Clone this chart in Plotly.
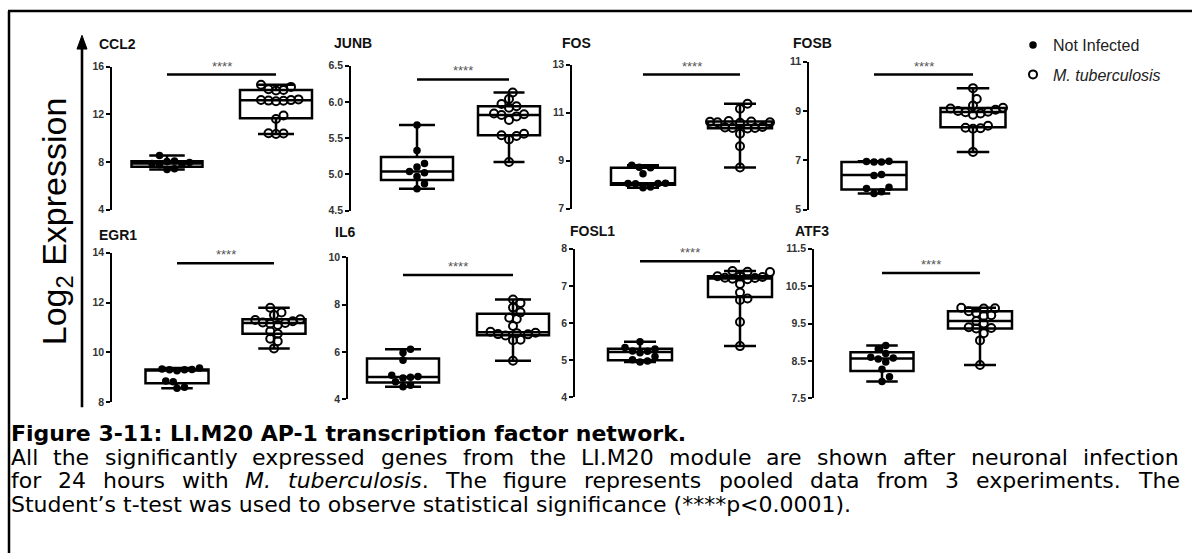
import re
import numpy as np
import plotly.graph_objects as go

W, H = 1192, 559
FONT = "Liberation Sans, Arial, Helvetica, sans-serif"
CAP_FONT = "DejaVu Sans, Liberation Sans, Arial, sans-serif"

# ---------------- data ----------------
genes = ["CCL2", "JUNB", "FOS", "FOSB", "EGR1", "IL6", "FOSL1", "ATF3"]
group_names = ["Not Infected", "<i>M. tuberculosis</i>"]

ccl2_ni = [7.37, 7.42, 7.76, 7.80, 7.86, 7.95, 8.04, 8.08, 8.54]
ccl2_tb = [10.35, 10.38, 10.40, 11.60, 11.90, 13.10, 13.13, 13.15, 13.19, 13.20, 13.25, 14.00, 14.05, 14.10, 14.30, 14.48]
junb_ni = [4.80, 4.87, 4.97, 5.02, 5.04, 5.10, 5.15, 5.33, 5.68]
junb_tb = [5.17, 5.48, 5.53, 5.54, 5.56, 5.75, 5.80, 5.82, 5.83, 5.84, 5.92, 5.94, 5.97, 6.04, 6.13]
fos_ni = [7.87, 7.90, 8.03, 8.04, 8.05, 8.06, 8.45, 8.70, 8.72, 8.81]
fos_tb = [8.71, 9.60, 10.12, 10.34, 10.36, 10.36, 10.38, 10.40, 10.58, 10.60, 10.60, 10.62, 10.63, 10.65, 11.16, 11.37]
fosb_ni = [5.65, 5.72, 5.85, 5.90, 6.38, 6.42, 6.93, 6.93, 6.95, 6.96]
fosb_tb = [7.34, 8.28, 8.30, 8.32, 8.40, 8.85, 8.90, 8.95, 8.97, 9.00, 9.05, 9.10, 9.13, 9.22, 9.49, 9.93]
egr1_ni = [8.56, 8.60, 8.82, 8.85, 9.26, 9.30, 9.30, 9.31, 9.33, 9.37]
egr1_tb = [10.16, 10.45, 10.55, 10.75, 10.85, 11.10, 11.15, 11.18, 11.20, 11.25, 11.30, 11.33, 11.50, 11.60, 11.79]
il6_ni = [4.53, 4.60, 4.75, 4.90, 4.93, 4.97, 5.02, 5.65, 5.97, 6.12]
il6_tb = [5.63, 6.50, 6.52, 6.70, 6.75, 6.76, 6.80, 6.82, 6.86, 7.10, 7.40, 7.45, 7.68, 7.88, 8.07, 8.22]
fosl1_ni = [4.95, 4.98, 5.01, 5.10, 5.20, 5.24, 5.25, 5.30, 5.34, 5.50]
fosl1_tb = [5.38, 6.03, 6.62, 6.66, 6.82, 7.05, 7.18, 7.19, 7.21, 7.22, 7.24, 7.25, 7.26, 7.37, 7.38, 7.40]
atf3_ni = [7.95, 8.08, 8.28, 8.47, 8.55, 8.58, 8.60, 8.70, 8.82, 8.91]
atf3_tb = [8.39, 9.05, 9.24, 9.37, 9.38, 9.40, 9.50, 9.57, 9.70, 9.72, 9.78, 9.83, 9.90, 9.91, 9.92]

not_infected = [ccl2_ni, junb_ni, fos_ni, fosb_ni, egr1_ni, il6_ni, fosl1_ni, atf3_ni]
infected = [ccl2_tb, junb_tb, fos_tb, fosb_tb, egr1_tb, il6_tb, fosl1_tb, atf3_tb]

tick_values = [
    [4, 8, 12, 16],
    [4.5, 5.0, 5.5, 6.0, 6.5],
    [7, 9, 11, 13],
    [5, 7, 9, 11],
    [8, 10, 12, 14],
    [4, 6, 8, 10],
    [4, 5, 6, 7, 8],
    [7.5, 8.5, 9.5, 10.5, 11.5],
]
tick_labels = [
    ["4", "8", "12", "16"],
    ["4.5", "5.0", "5.5", "6.0", "6.5"],
    ["7", "9", "11", "13"],
    ["5", "7", "9", "11"],
    ["8", "10", "12", "14"],
    ["4", "6", "8", "10"],
    ["4", "5", "6", "7", "8"],
    ["7.5", "8.5", "9.5", "10.5", "11.5"],
]
sig_heights = [15.34, 6.31, 12.59, 10.48, 13.57, 9.26, 7.66, 10.85]
sig_text = "****"

y_title = "Log<sub>2</sub> Expression"
caption_title = "Figure 3-11: LI.M20 AP-1 transcription factor network."
caption_body = [
    "All the significantly expressed genes from the LI.M20 module are shown after neuronal infection",
    "for 24 hours with <i>M.</i> <i>tuberculosis</i>. The figure represents pooled data from 3 experiments. The",
    "Student\u2019s t-test was used to observe statistical significance (****p<0.0001).",
]

# ---------------- layout geometry (pixels) ----------------
panels = [
    dict(ax=112, c0=167, c1=276, top=62, bot=208, w0=71, w1=72, tx=97, ty=39),
    dict(ax=351, c0=417, c1=509, top=61, bot=209, w0=72, w1=62, tx=332, ty=38),
    dict(ax=572, c0=643, c1=740, top=60, bot=207, w0=64, w1=64, tx=560, ty=38),
    dict(ax=809, c0=874, c1=973, top=57, bot=208, w0=65, w1=65, tx=791, ty=38),
    dict(ax=112, c0=177, c1=274, top=252, bot=405, w0=63, w1=63, tx=97, ty=234),
    dict(ax=348, c0=403, c1=513, top=257, bot=402, w0=72, w1=72, tx=333, ty=231),
    dict(ax=575, c0=640, c1=740, top=248, bot=400, w0=64, w1=64, tx=568, ty=230),
    dict(ax=814, c0=882, c1=980, top=248, bot=401, w0=63, w1=64, tx=793, ty=230),
]

# DejaVu Sans advance widths (units per em = 2048)
DW = {" ": 651, "(": 799, ")": 799, "*": 1024, "-": 739, ".": 651, ":": 690, "<": 1716,
      "\u2019": 651, "'": 563,
      "A": 1401, "I": 604, "L": 1141, "M": 1767, "S": 1300, "T": 1251,
      "a": 1255, "b": 1300, "c": 1126, "d": 1300, "e": 1260, "f": 721, "g": 1300, "h": 1298,
      "i": 569, "j": 569, "k": 1186, "l": 569, "m": 1995, "n": 1298, "o": 1253, "p": 1300,
      "q": 1300, "r": 842, "s": 1067, "t": 803, "u": 1298, "v": 1212, "w": 1675, "x": 1212,
      "y": 1212, "z": 1075}
for d in "0123456789":
    DW[d] = 1303


def text_width(s, fs):
    plain = re.sub(r"<[^>]+>", "", s)
    return sum(DW.get(ch, 1250) for ch in plain) * fs / 2048.0


def px_x(px):
    return px / W


def px_y(py):
    return 1 - py / H


def swarm(vals, ppy, ppx, diam=7.5):
    vals = np.asarray(vals, float)
    order = np.argsort(vals)
    placed = []
    off = np.zeros(len(vals))
    cands = [0.0]
    for k in range(1, 16):
        cands += [k * diam * 0.5, -k * diam * 0.5]
    for i in order:
        y = vals[i] * ppy
        chosen = cands[-1]
        for c in cands:
            if all((c - px) ** 2 + (y - py) ** 2 >= diam ** 2 * 0.999 for px, py in placed):
                chosen = c
                break
        placed.append((chosen, y))
        off[i] = chosen / ppx
    return off


fig = go.Figure()
layout = dict(
    width=W, height=H, margin=dict(l=0, r=0, t=0, b=0),
    paper_bgcolor="white", plot_bgcolor="rgba(0,0,0,0)",
    font=dict(family=FONT, color="black"), showlegend=True,
)
annotations = []
shapes = []

for i, p in enumerate(panels):
    sfx = "" if i == 0 else str(i + 1)
    xa, ya = "x" + sfx, "y" + sfx
    d = p["c1"] - p["c0"]
    off = p["c0"] - p["ax"]
    lo, hi = tick_values[i][0], tick_values[i][-1]
    layout["xaxis" + sfx] = dict(domain=[px_x(p["ax"]), px_x(p["c1"] + off)],
                                 range=[-off / d, 1 + off / d], visible=False,
                                 anchor=ya, fixedrange=True)
    layout["yaxis" + sfx] = dict(domain=[px_y(p["bot"]), px_y(p["top"])], range=[lo, hi],
                                 anchor=xa, tickvals=tick_values[i], ticktext=tick_labels[i],
                                 showline=True, linecolor="black", linewidth=1.6,
                                 ticks="outside", ticklen=4, tickwidth=1.6, tickcolor="black",
                                 showgrid=False, zeroline=False, fixedrange=True,
                                 tickfont=dict(size=10.5, color="#333", family=FONT, weight="bold"))
    ppy = (p["bot"] - p["top"]) / (hi - lo)
    for g, (vals, wpx) in enumerate([(not_infected[i], p["w0"]), (infected[i], p["w1"])]):
        arr = np.asarray(vals, float)
        q1, med, q3 = np.percentile(arr, [25, 50, 75], method="weibull")
        fig.add_trace(go.Box(
            x=[g], q1=[q1], median=[med], q3=[q3],
            lowerfence=[arr.min()], upperfence=[arr.max()],
            width=wpx / d, whiskerwidth=0.5, boxpoints=False,
            line=dict(color="black", width=2.5), fillcolor="rgba(0,0,0,0)",
            xaxis=xa, yaxis=ya, showlegend=False, hoverinfo="skip",
        ))
    for g, vals in enumerate([not_infected[i], infected[i]]):
        offs = swarm(vals, ppy, d)
        if g == 0:
            marker = dict(symbol="circle", size=7.5, color="black")
        else:
            marker = dict(symbol="circle-open", size=8, color="black", line=dict(width=2))
        fig.add_trace(go.Scatter(
            x=g + offs, y=vals, mode="markers", marker=marker, xaxis=xa, yaxis=ya,
            name=group_names[g], showlegend=(i == 0),
            legend="legend" if g == 0 else "legend2", hoverinfo="skip", cliponaxis=False,
        ))
    shapes.append(dict(type="line", xref=xa, yref=ya, x0=0, x1=1,
                       y0=sig_heights[i], y1=sig_heights[i],
                       line=dict(color="black", width=2.5)))
    annotations.append(dict(xref=xa, yref=ya, x=0.5, y=sig_heights[i], text=sig_text,
                            showarrow=False, yanchor="bottom", yshift=-1,
                            font=dict(size=13, color="#555", family=FONT)))
    annotations.append(dict(xref="paper", yref="paper", x=px_x(p["tx"]), y=px_y(p["ty"]),
                            text=genes[i], showarrow=False, xanchor="left", yanchor="middle",
                            font=dict(size=14, color="#111", family=FONT, weight="bold")))

# y title + arrow (shaft + head)
annotations.append(dict(xref="paper", yref="paper", x=px_x(56), y=px_y(220), text=y_title,
                        textangle=-90, showarrow=False, xanchor="center", yanchor="middle",
                        font=dict(size=34, color="black", family=FONT)))
shapes.append(dict(type="line", xref="paper", yref="paper", x0=px_x(82), x1=px_x(82),
                   y0=px_y(410), y1=px_y(40), line=dict(color="black", width=2.6)))
shapes.append(dict(type="path", xref="paper", yref="paper",
                   path="M {:.5f},{:.5f} L {:.5f},{:.5f} L {:.5f},{:.5f} Z".format(
                       px_x(77), px_y(44), px_x(82), px_y(30), px_x(87), px_y(44)),
                   fillcolor="black", line=dict(color="black", width=1)))

# frame
shapes.append(dict(type="line", xref="paper", yref="paper", x0=px_x(8), x1=1.0,
                   y0=px_y(5), y1=px_y(5), line=dict(color="black", width=2.5)))
shapes.append(dict(type="line", xref="paper", yref="paper", x0=px_x(9), x1=px_x(9),
                   y0=px_y(5), y1=0.0, line=dict(color="black", width=2.5)))

# caption
CAP_FS = 22
CAP_L, CAP_R = 12, 1180
line_y = [437, 461, 485, 509]
annotations.append(dict(xref="paper", yref="paper", x=px_x(CAP_L - 3), y=px_y(line_y[0]),
                        text=caption_title, showarrow=False, xanchor="left", yanchor="middle",
                        font=dict(size=CAP_FS, color="black", family=CAP_FONT, weight="bold")))
for li, line in enumerate(caption_body):
    yy = px_y(line_y[li + 1])
    if li < len(caption_body) - 1:
        words = line.split(" ")
        widths = [text_width(w_, CAP_FS) for w_ in words]
        gap = (CAP_R - CAP_L - sum(widths)) / (len(words) - 1)
        xcur = CAP_L
        for w_, ww in zip(words, widths):
            annotations.append(dict(xref="paper", yref="paper", x=px_x(xcur - 3), y=yy, text=w_,
                                    showarrow=False, xanchor="left", yanchor="middle",
                                    font=dict(size=CAP_FS, color="black", family=CAP_FONT)))
            xcur += ww + gap
    else:
        annotations.append(dict(xref="paper", yref="paper", x=px_x(CAP_L - 3), y=yy, text=line,
                                showarrow=False, xanchor="left", yanchor="middle",
                                font=dict(size=CAP_FS, color="black", family=CAP_FONT)))

layout["annotations"] = annotations
layout["shapes"] = shapes
layout["legend"] = dict(x=px_x(1013), y=px_y(40), xanchor="left", yanchor="middle",
                        bgcolor="rgba(0,0,0,0)", font=dict(size=16, color="#222", family=FONT))
layout["legend2"] = dict(x=px_x(1013), y=px_y(70), xanchor="left", yanchor="middle",
                         bgcolor="rgba(0,0,0,0)", font=dict(size=16, color="#222", family=FONT))
fig.update_layout(**layout)
fig.write_html("out.html", config={"displayModeBar": False},
               post_script="document.body.style.margin='0px';")
